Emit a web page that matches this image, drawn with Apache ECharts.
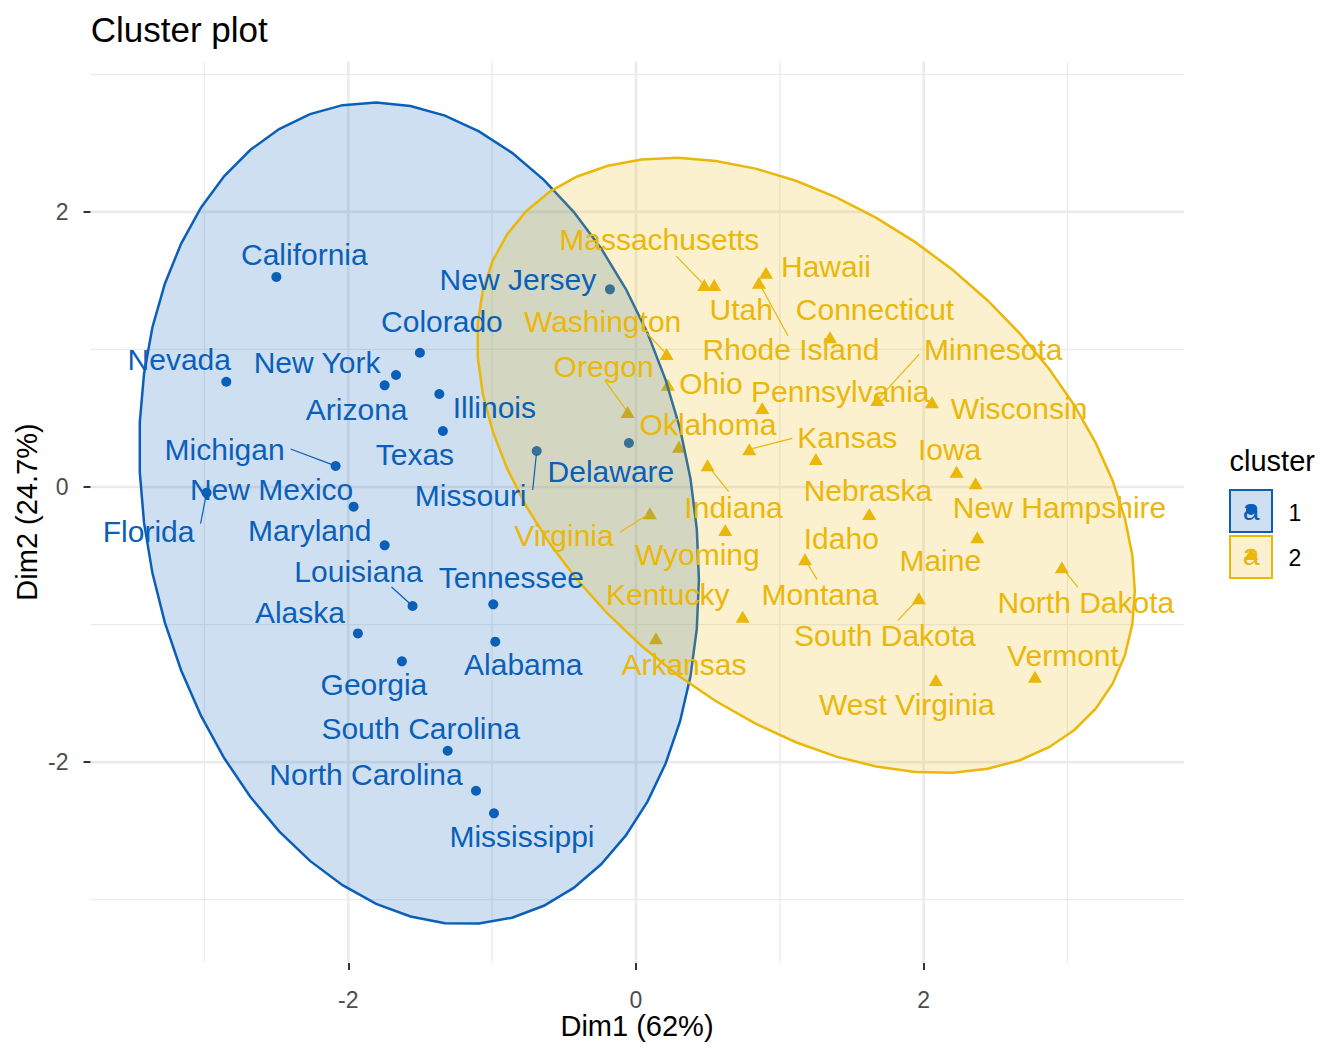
<!DOCTYPE html>
<html>
<head>
<meta charset="utf-8">
<script src="https://cdn.jsdelivr.net/npm/echarts@6/dist/echarts.min.js"></script>
<style>
html,body{margin:0;padding:0;background:#ffffff;}
#chart{width:1344px;height:1056px;}
</style>
</head>
<body>
<div id="chart"></div>
<script>
// ---------------- DATA ----------------
const cluster1Names = ['California','Colorado','Nevada','New York','Arizona','Illinois','Texas','Michigan','Florida','New Mexico','Maryland','Louisiana','Alaska','Georgia','South Carolina','North Carolina','Mississippi','Alabama','Tennessee','Missouri','Delaware','New Jersey'];
const cluster1Dim1 = [-2.500,-1.502,-2.848,-1.668,-1.747,-1.367,-1.342,-2.088,-2.985,-1.963,-1.747,-1.553,-1.933,-1.627,-1.309,-1.112,-0.987,-0.978,-0.992,-0.690,-0.049,-0.181];
const cluster1Dim2 = [1.527,0.976,0.765,0.814,0.739,0.676,0.407,0.153,-0.041,-0.143,-0.424,-0.865,-1.064,-1.267,-1.917,-2.208,-2.372,-1.124,-0.853,0.262,0.320,1.437];

const cluster2Names = ['Massachusetts','Utah','Hawaii','Rhode Island','Connecticut','Washington','Oregon','Ohio','Pennsylvania','Minnesota','Wisconsin','Oklahoma','Kansas','Indiana','Iowa','New Hampshire','Nebraska','Idaho','Virginia','Wyoming','Maine','Montana','Kentucky','South Dakota','North Dakota','Arkansas','Vermont','West Virginia'];
const cluster2Dim1 = [0.475,0.544,0.904,0.855,1.349,0.213,-0.058,0.222,0.878,1.678,2.058,0.299,0.788,0.498,2.229,2.361,1.251,1.622,0.097,0.621,2.373,1.175,0.742,1.967,2.961,0.139,2.774,2.085];
const cluster2Dim2 = [1.468,1.468,1.558,1.485,1.088,0.967,0.545,0.744,0.574,0.632,0.616,0.293,0.274,0.158,0.111,0.027,0.204,-0.196,-0.191,-0.313,-0.366,-0.526,-0.943,-0.809,-0.584,-1.100,-1.379,-1.403];

const clusterLabels = ['1','2'];
const xMajorTicks = [-2, 0, 2];
const xMinorTicks = [-3, -1, 1, 3];
const yMajorTicks = [-2, 0, 2];
const yMinorTicks = [-3, -1, 1, 3];

// ---------------- LAYOUT (label placement, px relative to the point) ----------------
// [dx to label centre, dy to label baseline]
const labelOffset = {
  'California':[28,-12],'Colorado':[22,-21],'Nevada':[-47,-12],'New York':[-79,-2],'Arizona':[-28,35],
  'Illinois':[55,24],'Texas':[-28,34],'Michigan':[-111,-6],'Florida':[-58,49],'New Mexico':[-82,-7],
  'Maryland':[-75,-4],'Louisiana':[-54,-24],'Alaska':[-58,-10],'Georgia':[-28,34],'South Carolina':[-27,-12],
  'North Carolina':[-110,-6],'Mississippi':[28,34],'Alabama':[28,33],'Tennessee':[18,-16],'Missouri':[-66,55],
  'Delaware':[-18,39],'New Jersey':[-92,1],
  'Massachusetts':[-45,-35],'Utah':[27,35],'Hawaii':[60,4],'Rhode Island':[32,77],'Connecticut':[45,-17],
  'Washington':[-64,-22],'Oregon':[-24,-35],'Ohio':[43,9],'Pennsylvania':[78,-6],'Minnesota':[116,-40],
  'Wisconsin':[87,17],'Oklahoma':[29,-12],'Kansas':[98,-1],'Indiana':[26,53],'Iowa':[-7,-12],
  'New Hampshire':[84,35],'Nebraska':[52,42],'Idaho':[-28,35],'Virginia':[-86,33],'Wyoming':[-28,35],
  'Maine':[-37,34],'Montana':[15,46],'Kentucky':[-75,-12],'South Dakota':[-34,48],'North Dakota':[24,46],
  'Arkansas':[28,37],'Vermont':[28,-11],'West Virginia':[-29,35]
};
// start of leader segment, px relative to the point
const leaderStart = {
  'Michigan':[-45,-17],'Florida':[-6,31],'Louisiana':[-21,-19],'Missouri':[-4,39],
  'Massachusetts':[-28,-29],'Rhode Island':[29,53],'Washington':[-20,-21],'Oregon':[-23,-32],
  'Minnesota':[42,-46],'Kansas':[43,-11],'Indiana':[21,26],'Virginia':[-30,19],
  'Montana':[12,20],'South Dakota':[-21,22],'North Dakota':[16,20]
};

const COLORS = ['#0A5FB8', '#EAB70A'];
const FILLS = ['rgba(10,95,184,0.2)', 'rgba(234,183,10,0.2)'];
const FONT = '"Liberation Sans", Arial, Helvetica, sans-serif';

// ---------------- normal-theory 95% ellipse (as ggplot2 stat_ellipse type="norm") ----------------
function ellipsePoints(xs, ys, level, segments) {
  const n = xs.length;
  let mx = 0, my = 0;
  for (let i = 0; i < n; i++) { mx += xs[i]; my += ys[i]; }
  mx /= n; my /= n;
  let sxx = 0, syy = 0, sxy = 0;
  for (let i = 0; i < n; i++) {
    const dx = xs[i] - mx, dy = ys[i] - my;
    sxx += dx * dx; syy += dy * dy; sxy += dx * dy;
  }
  sxx /= (n - 1); syy /= (n - 1); sxy /= (n - 1);
  const a = Math.sqrt(sxx), b = sxy / a, c = Math.sqrt(syy - b * b);
  const d = n - 1;
  const q = (d / 2) * (Math.pow(1 - level, -2 / d) - 1); // qf(level, 2, d)
  const r = Math.sqrt(2 * q);
  const pts = [];
  for (let k = 0; k <= segments; k++) {
    const t = 2 * Math.PI * k / segments;
    const u = Math.cos(t), v = Math.sin(t);
    pts.push([mx + r * u * a, my + r * (u * b + v * c)]);
  }
  return pts;
}
const ellipses = [
  ellipsePoints(cluster1Dim1, cluster1Dim2, 0.95, 51),
  ellipsePoints(cluster2Dim1, cluster2Dim2, 0.95, 51)
];

// ---------------- series data ----------------
const pts1 = cluster1Dim1.map((x, i) => [x, cluster1Dim2[i]]);
const pts2 = cluster2Dim1.map((x, i) => [x, cluster2Dim2[i]]);
const labelItems = [];
cluster1Names.forEach((nm, i) => labelItems.push({ value: [cluster1Dim1[i], cluster1Dim2[i]], name: nm, cl: 0 }));
cluster2Names.forEach((nm, i) => labelItems.push({ value: [cluster2Dim1[i], cluster2Dim2[i]], name: nm, cl: 1 }));

const gridData = [];
xMinorTicks.forEach(v => gridData.push([v, 0, 0, 0]));
yMinorTicks.forEach(v => gridData.push([0, v, 1, 0]));
xMajorTicks.forEach(v => gridData.push([v, 0, 0, 1]));
yMajorTicks.forEach(v => gridData.push([0, v, 1, 1]));

const chart = echarts.init(document.getElementById('chart'), null, { renderer: 'svg' });

const option = {
  backgroundColor: '#ffffff',
  animation: false,
  grid: { left: 90.5, top: 61.5, right: 160, bottom: 93, containLabel: false },
  xAxis: {
    type: 'value', min: -3.792, max: 3.810,
    splitLine: { show: false },
    axisLine: { show: false, onZero: false },
    axisTick: { show: true, length: 7, lineStyle: { color: '#333333', width: 2 }, customValues: xMajorTicks },
    axisLabel: { customValues: xMajorTicks, color: '#4D4D4D', fontSize: 23, fontFamily: FONT, margin: 25 }
  },
  yAxis: {
    type: 'value', min: -3.460, max: 3.093,
    splitLine: { show: false },
    axisLine: { show: false, onZero: false },
    axisTick: { show: true, length: 7, lineStyle: { color: '#333333', width: 2 }, customValues: yMajorTicks },
    axisLabel: { customValues: yMajorTicks, color: '#4D4D4D', fontSize: 23, fontFamily: FONT, margin: 22 }
  },
  graphic: [
    { type: 'text', left: 90.7, top: 12, style: { text: 'Cluster plot', font: '35px ' + FONT, fill: '#000000' } },
    { type: 'text', x: 637, y: 1026, style: { text: 'Dim1 (62%)', font: '29px ' + FONT, fill: '#000000', align: 'center', verticalAlign: 'middle' } },
    { type: 'text', x: 27, y: 512, rotation: Math.PI / 2, style: { text: 'Dim2 (24.7%)', font: '29px ' + FONT, fill: '#000000', align: 'center', verticalAlign: 'middle' } },
    { type: 'text', x: 1229.5, y: 460.5, style: { text: 'cluster', font: '29px ' + FONT, fill: '#000000', align: 'left', verticalAlign: 'middle' } },
    { type: 'rect', shape: { x: 1230, y: 490, width: 42, height: 42 }, style: { fill: FILLS[0], stroke: COLORS[0], lineWidth: 2 } },
    { type: 'rect', shape: { x: 1230, y: 536, width: 42, height: 42 }, style: { fill: FILLS[1], stroke: COLORS[1], lineWidth: 2 } },
    { type: 'text', x: 1251, y: 509, style: { text: 'a', font: '30px ' + FONT, fill: COLORS[0], align: 'center', verticalAlign: 'middle' } },
    { type: 'text', x: 1251, y: 554, style: { text: 'a', font: '30px ' + FONT, fill: COLORS[1], align: 'center', verticalAlign: 'middle' } },
    { type: 'circle', shape: { cx: 1251, cy: 510, r: 5 }, style: { fill: COLORS[0] } },
    { type: 'polygon', shape: { points: [[1251, 548], [1258, 560], [1244, 560]] }, style: { fill: COLORS[1] } },
    { type: 'text', x: 1295, y: 513, style: { text: clusterLabels[0], font: '23px ' + FONT, fill: '#000000', align: 'center', verticalAlign: 'middle' } },
    { type: 'text', x: 1295, y: 558, style: { text: clusterLabels[1], font: '23px ' + FONT, fill: '#000000', align: 'center', verticalAlign: 'middle' } }
  ],
  series: [
    {
      name: 'grid', type: 'custom', z: 0, silent: true,
      data: gridData,
      renderItem: function (params, api) {
        const cs = params.coordSys;
        const isY = api.value(2) === 1, major = api.value(3) === 1;
        const style = { stroke: '#EBEBEB', lineWidth: major ? 2.6 : 1.3 };
        if (!isY) {
          const x = api.coord([api.value(0), 0])[0];
          return { type: 'line', shape: { x1: x, y1: cs.y, x2: x, y2: cs.y + cs.height }, style: style };
        }
        const y = api.coord([0, api.value(1)])[1];
        return { type: 'line', shape: { x1: cs.x, y1: y, x2: cs.x + cs.width, y2: y }, style: style };
      }
    },
    {
      name: '1', type: 'scatter', z: 1, silent: true,
      data: pts1, symbol: 'circle', symbolSize: 10,
      itemStyle: { color: COLORS[0], opacity: 1 }
    },
    {
      name: '2', type: 'scatter', z: 1, silent: true,
      data: pts2, symbol: 'triangle', symbolSize: [14, 12],
      itemStyle: { color: COLORS[1], opacity: 1 }
    },
    {
      name: 'ellipses', type: 'custom', z: 2, silent: true,
      data: [[0, 0, 0], [0, 0, 1]],
      renderItem: function (params, api) {
        const k = api.value(2);
        const pts = ellipses[k].map(p => api.coord(p));
        return { type: 'polygon', shape: { points: pts }, style: { fill: FILLS[k], stroke: COLORS[k], lineWidth: 2.5 } };
      }
    },
    {
      name: 'labels', type: 'custom', z: 3, silent: true,
      data: labelItems.map(d => d.value),
      renderItem: function (params, api) {
        const item = labelItems[params.dataIndex];
        const p = api.coord([api.value(0), api.value(1)]);
        const col = COLORS[item.cl];
        const children = [];
        const lead = leaderStart[item.name];
        if (lead) {
          const sx = p[0] + lead[0], sy = p[1] + lead[1];
          const dx = p[0] - sx, dy = p[1] - sy, L = Math.hypot(dx, dy);
          const k = (L - 3) / L;
          children.push({ type: 'line', shape: { x1: sx, y1: sy, x2: sx + dx * k, y2: sy + dy * k }, style: { stroke: col, lineWidth: 1.2 } });
        }
        const off = labelOffset[item.name] || [0, -15];
        children.push({
          type: 'text', x: p[0] + off[0], y: p[1] + off[1] - 0.35 * 30,
          style: { text: item.name, fill: col, font: '30px ' + FONT, align: 'center', verticalAlign: 'middle' }
        });
        return { type: 'group', children: children };
      }
    }
  ]
};
chart.setOption(option);
</script>
</body>
</html>
